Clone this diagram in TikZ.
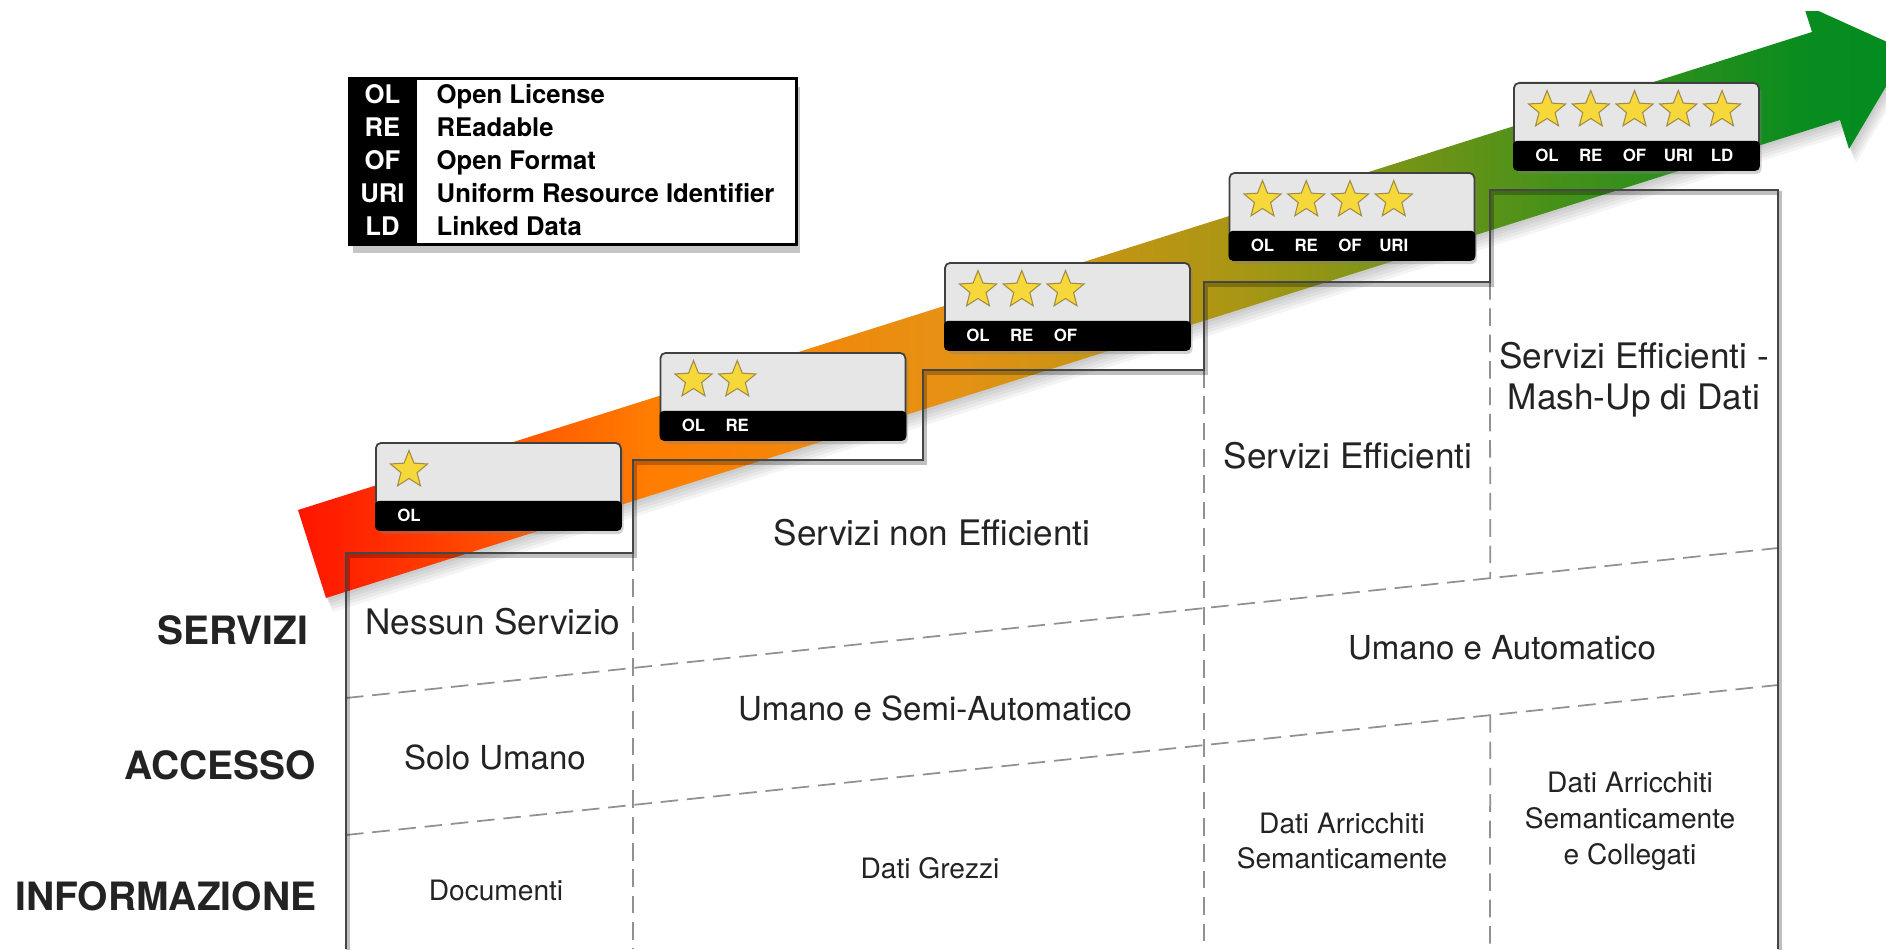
\documentclass[tikz,border=0pt]{standalone}
\usepackage{fontspec}
\setmainfont{TeX Gyre Heros}
\usepackage{tikz}
\usetikzlibrary{calc,positioning,shapes.geometric,shadows}

\definecolor{txt}{RGB}{35,35,35}
\definecolor{boxgrey}{RGB}{230,230,230}
\definecolor{staryel}{RGB}{247,216,58}
\definecolor{starline}{RGB}{160,140,70}
\definecolor{stairline}{RGB}{70,70,70}
\definecolor{dashgrey}{RGB}{145,145,145}

\pgfdeclarehorizontalshading{bandshade}{100bp}{rgb(0bp)=(1,0.08,0); rgb(25bp)=(1,0.08,0); rgb(35.9bp)=(1,0.49,0); rgb(45.3bp)=(0.9,0.57,0.08); rgb(54.6bp)=(0.65,0.59,0.08); rgb(63.9bp)=(0.28,0.57,0.1); rgb(71.7bp)=(0.04,0.55,0.12); rgb(75bp)=(0,0.55,0.12); rgb(100bp)=(0,0.55,0.12)}

\begin{document}
\begin{tikzpicture}
\tikzstyle{cell}=[font=\fontsize{10}{11.6}\selectfont, text=txt, align=center, inner sep=0pt]
\tikzstyle{cellm}=[font=\fontsize{9.4}{11}\selectfont, text=txt, align=center, inner sep=0pt]
\tikzstyle{small}=[font=\fontsize{8}{10.2}\selectfont, text=txt, align=center, inner sep=0pt]
\tikzstyle{rowlab}=[font=\fontsize{11.1}{13}\selectfont\bfseries, text=txt, anchor=east, inner sep=0pt]
\tikzstyle{dl}=[dashgrey, line width=0.5pt, dash pattern=on 5pt off 2.5pt]
\tikzstyle{stair}=[stairline, line width=0.8pt, line join=miter]
\tikzstyle{sbox}=[rectangle, draw=black!75, line width=0.5pt, fill=boxgrey, rounded corners=1.5pt, minimum width=2.45cm, minimum height=0.87cm, inner sep=0pt, anchor=north west, drop shadow={opacity=0.35, shadow xshift=0.8pt, shadow yshift=-1.2pt}]
\tikzstyle{gstar}=[star, star points=5, star point ratio=2.3, minimum size=0.39cm, inner sep=0pt, fill=staryel, draw=starline, line width=0.3pt]
\tikzstyle{slab}=[text=white, font=\fontsize{4.8}{5}\selectfont\bfseries, inner sep=0pt]
\tikzstyle{legkey}=[text=white, font=\fontsize{7.3}{8}\selectfont\bfseries, inner sep=0pt, anchor=base]
\tikzstyle{legtxt}=[text=black, font=\fontsize{7.3}{8}\selectfont\bfseries, inner sep=0pt, anchor=base west]

\useasboundingbox (0,0) rectangle (18.86,9.49);

% arrow
\coordinate (t1) at (2.98,4.39);
\coordinate (t2) at (3.26,3.51);
\coordinate (u1) at (18.12,9.17);
\coordinate (h1) at (18.03,9.45);
\coordinate (tip) at (19.07,8.98);
\coordinate (h2) at (18.49,8.00);
\coordinate (l1) at (18.40,8.29);
\begin{scope}
\clip (0,0) rectangle (18.86,9.37);
\foreach \d in {1,...,5}
  \fill[black, opacity=0.045, transform canvas={xshift={0.4pt*\d}, yshift={-0.8pt*\d}}] (t1) -- (u1) -- (h1) -- (tip) -- (h2) -- (l1) -- (t2) -- cycle;
\shade[shading=bandshade] (t1) -- (u1) -- (h1) -- (tip) -- (h2) -- (l1) -- (t2) -- cycle;
\end{scope}

% rows
\coordinate (a1) at (3.46,2.51);
\coordinate (a2) at (17.78,4.01);
\coordinate (b1) at (3.46,1.14);
\coordinate (b2) at (17.78,2.64);
\draw[dl] (a1) -- (a2);
\draw[dl] (b1) -- (b2);

% steps
\coordinate (p0) at (3.46,0);
\coordinate (p1) at (3.46,3.96);
\coordinate (p2) at (6.33,3.96);
\coordinate (p3) at (6.33,4.89);
\coordinate (p4) at (9.23,4.89);
\coordinate (p5) at (9.23,5.79);
\coordinate (p6) at (12.04,5.79);
\coordinate (p7) at (12.04,6.67);
\coordinate (p8) at (14.90,6.67);
\coordinate (p9) at (14.90,7.59);
\coordinate (p10) at (17.78,7.59);
\coordinate (p11) at (17.78,0);
\draw[dl] (p2) -- (p2 |- p0);
\draw[dl] (p6) -- (p6 |- p0);
\draw[dl] (p8) -- ($(a1)!0.799!(a2)$);
\draw[dl] ($(b1)!0.799!(b2)$) -- (p8 |- p0);
\draw[black, opacity=0.25, line width=1.2pt, transform canvas={xshift=0.6pt, yshift=-0.9pt}] (p0) -- (p1) -- (p2) -- (p3) -- (p4) -- (p5) -- (p6) -- (p7) -- (p8) -- (p9) -- (p10) -- (p11);
\draw[stair] (p0) -- (p1) -- (p2) -- (p3) -- (p4) -- (p5) -- (p6) -- (p7) -- (p8) -- (p9) -- (p10) -- (p11);

% legend
\node[draw=black, line width=0.8pt, fill=white, minimum width=4.47cm, minimum height=1.66cm, inner sep=0pt, anchor=north west, drop shadow={opacity=0.45, shadow xshift=1pt, shadow yshift=-2.5pt}] (leg) at (3.48,8.72) {};
\fill[black] (leg.north west) rectangle ($(leg.south west)+(0.69,0)$);
\foreach \a/\b [count=\i] in {OL/Open License, RE/REadable, OF/Open Format, URI/Uniform Resource Identifier, LD/Linked Data} {
  \node[legkey] (key\i) at (3.825, {8.455-0.33*(\i-1)}) {\a};
  \node[legtxt] (def\i) at (4.36, {8.455-0.33*(\i-1)}) {\b};
}

% star boxes
\foreach \n/\labs in {1/{OL}, 2/{OL,RE}, 3/{OL,RE,OF}, 4/{OL,RE,OF,URI}, 5/{OL,RE,OF,URI,LD}} {
  \node[sbox] (sb\n) at ({3.75+2.845*(\n-1)}, {5.07+0.90*(\n-1)}) {};
  \fill[black, rounded corners=1.2pt] (sb\n.south west) rectangle ($(sb\n.south east)+(0,0.30)$);
  \foreach \l [count=\k] in \labs {
    \node[gstar] (st\n\k) at ($(sb\n.north west)+({0.34+0.4375*(\k-1)},-0.28)$) {};
    \node[slab] (lab\n\k) at ($(sb\n.south west)+({0.34+0.4375*(\k-1)},0.15)$) {\l};
  }
}

% labels
\node[rowlab] (serv) at (3.09,3.19) {SERVIZI};
\node[rowlab] (acc) at (3.17,1.84) {ACCESSO};
\node[rowlab] (info) at (3.17,0.53) {INFORMAZIONE};

\node[cell] (c11) at (4.93,3.27) {Nessun Servizio};
\node[cellm] (c12) at (4.95,1.92) {Solo Umano};
\node[small] (c13) at (4.96,0.59) {Documenti};
\node[cell] (c21) at (9.32,4.16) {Servizi non Efficienti};
\node[cellm] (c22) at (9.35,2.41) {Umano e Semi-Automatico};
\node[small] (c23) at (9.30,0.81) {Dati Grezzi};
\node[cell] (c31) at (13.48,4.93) {Servizi Efficienti};
\node[cell] (c41) at (16.34,5.69) {Servizi Efficienti -\\Mash-Up di Dati};
\node[cellm] (c32) at (15.02,3.01) {Umano e Automatico};
\node[small] (c33) at (13.42,1.08) {Dati Arricchiti\\Semanticamente};
\node[small] (c43) at (16.30,1.28) {Dati Arricchiti\\Semanticamente\\e Collegati};
\end{tikzpicture}
\end{document}
